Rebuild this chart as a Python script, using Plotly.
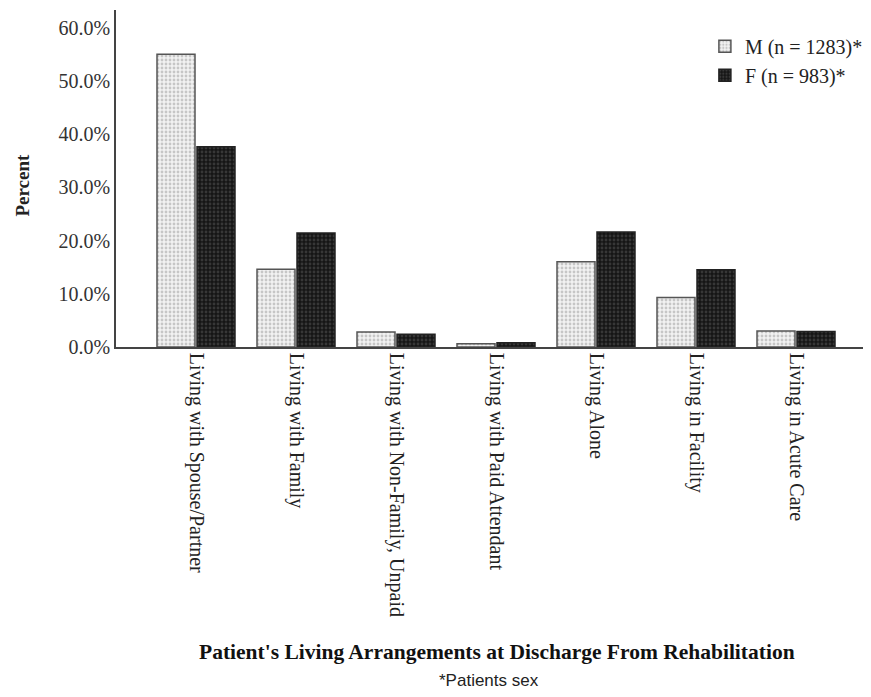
import plotly.graph_objects as go

categories = [
    "Living with Spouse/Partner",
    "Living with Family",
    "Living with Non-Family, Unpaid",
    "Living with Paid Attendant",
    "Living Alone",
    "Living in Facility",
    "Living in Acute Care",
]
male_pct = [55.0, 14.6, 2.8, 0.6, 16.0, 9.3, 3.0]
female_pct = [37.6, 21.4, 2.4, 0.8, 21.6, 14.5, 2.9]
series_names = ["M (n = 1283)*", "F (n = 983)*"]
y_ticks = [0, 10, 20, 30, 40, 50, 60]
y_tick_labels = [f"{v:.1f}%" for v in y_ticks]

serif = "Liberation Serif, Times New Roman, serif"

fig = go.Figure()
fig.add_trace(go.Bar(
    x=categories, y=male_pct, name=series_names[0],
    marker=dict(color="#f2f2f2",
                line=dict(color="#555555", width=1.5),
                pattern=dict(shape=".", fgcolor="#9a9a9a", bgcolor="#f2f2f2", size=4, solidity=0.4)),
))
fig.add_trace(go.Bar(
    x=categories, y=female_pct, name=series_names[1],
    marker=dict(color="#151515",
                line=dict(color="#222222", width=1.5),
                pattern=dict(shape=".", fgcolor="#5a5a5a", bgcolor="#151515", size=4, solidity=0.4)),
))

fig.update_layout(
    width=863, height=689,
    margin=dict(l=108, r=0, t=2, b=350),
    paper_bgcolor="white", plot_bgcolor="white",
    barmode="group", bargap=0.2, bargroupgap=0.05,
    font=dict(family=serif, size=20, color="#222222"),
    legend=dict(x=0.78, y=0.95, xanchor="left", yanchor="top",
                font=dict(family=serif, size=20, color="#222222"),
                bgcolor="rgba(0,0,0,0)", itemwidth=30, tracegroupgap=0),
    xaxis=dict(
        range=[-0.8, 6.75],
        tickangle=90, showline=True, linecolor="#444444", linewidth=1.5,
        ticks="", showgrid=False,
        tickfont=dict(family=serif, size=20, color="#222222"),
    ),
    yaxis=dict(
        range=[0, 63.3], tickvals=y_ticks, ticktext=y_tick_labels,
        showline=True, linecolor="#444444", linewidth=1.5,
        ticks="", showgrid=False, zeroline=False,
        tickfont=dict(family=serif, size=20, color="#333333"),
    ),
    annotations=[
        dict(text="<b>Percent</b>", textangle=-90,
             xref="paper", yref="paper", x=-0.124, y=0.48, xanchor="center", yanchor="middle",
             showarrow=False, font=dict(family=serif, size=19, color="#222222")),
        dict(text="<b>Patient's Living Arrangements at Discharge From Rehabilitation</b>",
             xref="paper", yref="paper", x=0.505, y=-0.905, xanchor="center", yanchor="middle",
             showarrow=False, font=dict(family=serif, size=21.5, color="#111111")),
        dict(text="*Patients sex",
             xref="paper", yref="paper", x=0.494, y=-0.99, xanchor="center", yanchor="middle",
             showarrow=False, font=dict(family="Liberation Sans, Arial, sans-serif", size=17, color="#222222")),
    ],
)

fig.write_html("out.html")
